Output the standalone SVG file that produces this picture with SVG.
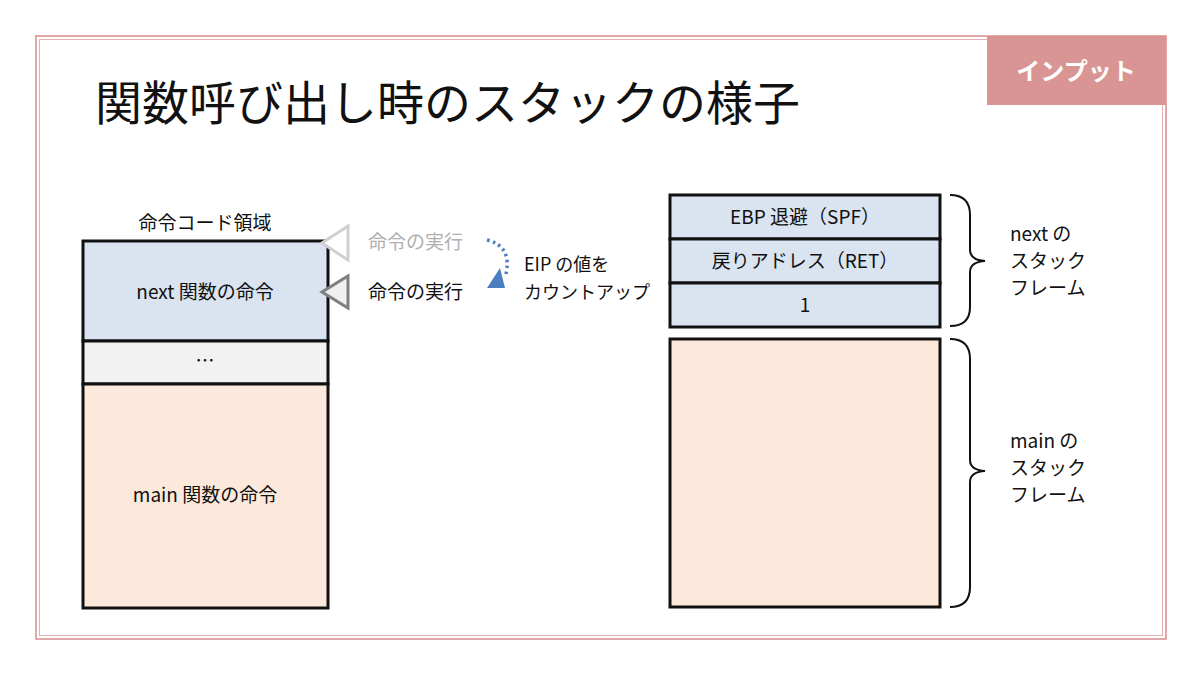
<svg xmlns="http://www.w3.org/2000/svg" width="1200" height="675" viewBox="0 0 1200 675">
<style>
text{font-family:"Noto Sans CJK JP","Noto Sans",sans-serif;fill:#111}
.t{font-size:19px}
.s{font-size:18px}
.b{stroke:#111;stroke-width:3}
.br{fill:none;stroke:#111;stroke-width:2}
</style>
<rect width="1200" height="675" fill="#fff"/>
<rect x="36" y="36" width="1130" height="603" fill="none" stroke="#d98c8c" stroke-width="1.5"/>
<rect x="39.5" y="39.5" width="1123" height="596" fill="none" stroke="#e8b0b0" stroke-width="1"/>
<g id="badge"><rect x="987" y="36" width="179" height="69" fill="#d99594"/>
<text x="1076" y="80" font-size="24" font-weight="bold" text-anchor="middle" style="fill:#fff">インプット</text></g>
<text x="95" y="120" font-size="47">関数呼び出し時のスタックの様子</text>
<g id="code">
<text x="205" y="230" class="t" text-anchor="middle">命令コード領域</text>
<rect x="83" y="241" width="245" height="100" fill="#dae3f0" class="b"/>
<rect x="83" y="341" width="245" height="43" fill="#f2f2f2" class="b"/>
<rect x="83" y="384" width="245" height="224" fill="#fde9db" class="b"/>
<text x="205" y="299" class="t" text-anchor="middle">next 関数の命令</text>
<text x="205" y="368" class="t" text-anchor="middle">…</text>
<text x="205" y="502" class="t" text-anchor="middle">main 関数の命令</text>
</g>
<g id="pointers">
<polygon points="348,226 348,260 322,243" fill="#fff" stroke="#d0d0d0" stroke-width="3"/>
<text x="368" y="249" class="t" style="fill:#b0b0b0">命令の実行</text>
<polygon points="348,276 348,308 322,292" fill="#f0f0f0" stroke="#808080" stroke-width="3"/>
<text x="368" y="299" class="t">命令の実行</text>
</g>
<g id="connectors">
<path d="M487,240 Q512,246 506,274" fill="none" stroke="#4a7fc1" stroke-width="3.5" stroke-dasharray="2.5,3.5"/>
<polygon points="487,288 505,288 500,268" fill="#4a7fc1"/>
</g>
<text x="524" y="271" class="s">EIP の値を</text>
<text x="524" y="299" class="s">カウントアップ</text>
<g id="stack">
<rect x="670" y="195" width="270" height="44" fill="#dae3f0" class="b"/>
<rect x="670" y="239" width="270" height="44" fill="#dae3f0" class="b"/>
<rect x="670" y="283" width="270" height="44" fill="#dae3f0" class="b"/>
<rect x="670" y="339" width="270" height="268" fill="#fde9db" class="b"/>
<text x="805" y="224" class="t" text-anchor="middle">EBP 退避（SPF）</text>
<text x="805" y="268" class="t" text-anchor="middle">戻りアドレス（RET）</text>
<text x="805" y="312" class="t" text-anchor="middle">1</text>
</g>
<g id="braces">
<path class="br" d="M950,195 Q970,195 970,215 V250 Q970,260 985,261 Q970,262 970,272 V307 Q970,326 950,326"/>
<path class="br" d="M950,339 Q970,339 970,359 V460 Q970,470 985,471 Q970,472 970,482 V587 Q970,607 950,607"/>
<text x="1010" y="241" class="t">next の</text>
<text x="1010" y="268" class="t">スタック</text>
<text x="1010" y="295" class="t">フレーム</text>
<text x="1010" y="448" class="t">main の</text>
<text x="1010" y="475" class="t">スタック</text>
<text x="1010" y="502" class="t">フレーム</text>
</g>
</svg>
